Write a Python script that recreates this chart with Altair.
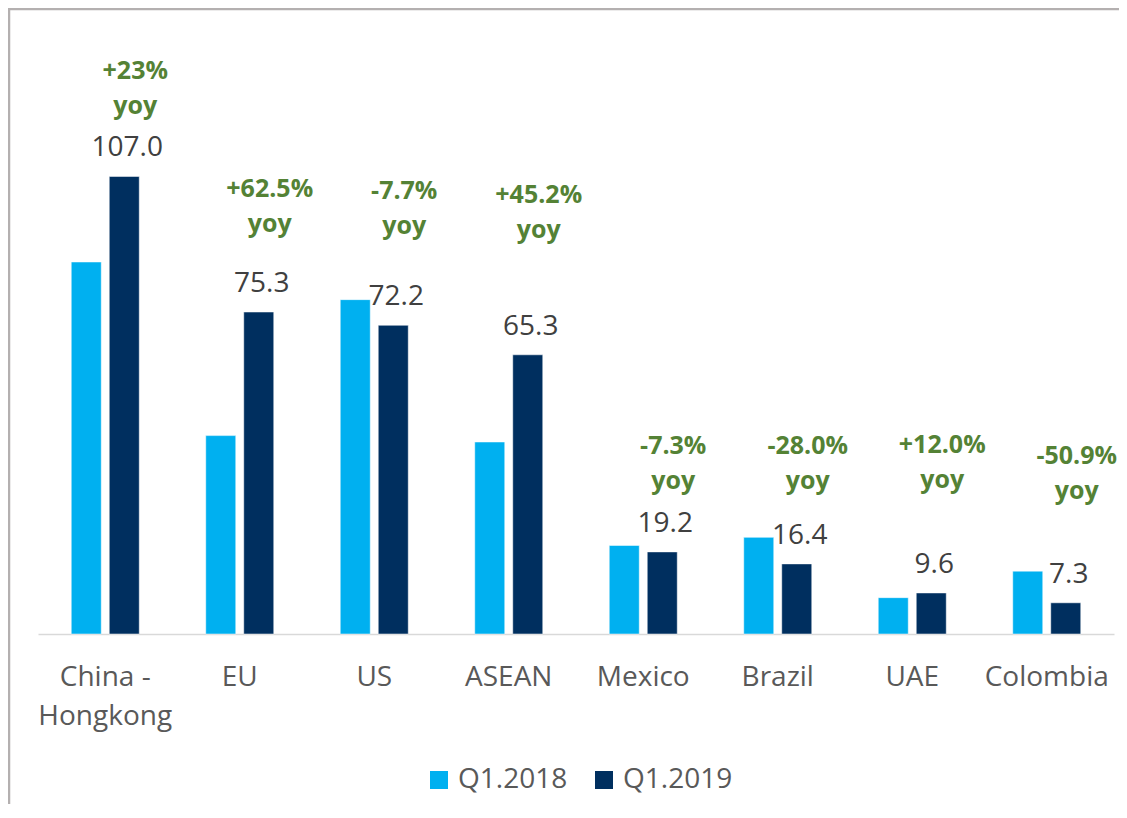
import altair as alt
import pandas as pd

categories = ["China - Hongkong", "EU", "US", "ASEAN", "Mexico", "Brazil", "UAE", "Colombia"]
q1_2018 = [87.0, 46.4, 78.2, 44.9, 20.7, 22.6, 8.5, 14.7]
q1_2019 = [107.0, 75.3, 72.2, 65.3, 19.2, 16.4, 9.6, 7.3]
yoy_labels = ["+23%", "+62.5%", "-7.7%", "+45.2%", "-7.3%", "-28.0%", "+12.0%", "-50.9%"]
# vertical level (in chart value units) where each yoy note sits
yoy_level = [130.2, 102.6, 102.3, 101.2, 42.6, 42.6, 42.9, 40.3]
series_names = ["Q1.2018", "Q1.2019"]
series_colors = ["#00B0F0", "#002F5F"]

rows = []
for c, a, b in zip(categories, q1_2018, q1_2019):
    rows.append({"category": c, "series": "Q1.2018", "value": a})
    rows.append({"category": c, "series": "Q1.2019", "value": b})
bars_df = pd.DataFrame(rows)
val_df = pd.DataFrame({"category": categories, "series": "Q1.2019", "value": q1_2019,
                       "label": [f"{v:.1f}" for v in q1_2019]})
yoy_df = pd.DataFrame({"category": categories, "level": yoy_level, "label": yoy_labels})

FONT = "Open Sans"

x_enc = alt.X("category:N", sort=categories, title=None,
              scale=alt.Scale(paddingInner=0.4944, paddingOuter=0.2472),
              axis=alt.Axis(labelAngle=0, ticks=False, labelFontSize=28, labelFont=FONT,
                            labelColor="#595959", labelPadding=29, labelLineHeight=39,
                            domainColor="#D9D9D9", domainWidth=1.5, grid=False,
                            labelExpr="datum.label == 'China - Hongkong' ? ['China -', 'Hongkong'] : datum.label"))
y_scale = alt.Scale(domain=[0, 145], nice=False, zero=True)

bars = alt.Chart(bars_df).mark_bar(stroke="#FFFFFF", strokeWidth=0.5).encode(
    x=x_enc,
    xOffset=alt.XOffset("series:N", sort=series_names,
                        scale=alt.Scale(paddingInner=0.2105, paddingOuter=0)),
    y=alt.Y("value:Q", scale=y_scale, axis=None),
    color=alt.Color("series:N", sort=series_names,
                    scale=alt.Scale(domain=series_names, range=series_colors),
                    legend=alt.Legend(title=None, orient="none", direction="horizontal",
                                      legendX=387, legendY=752, padding=0,
                                      symbolType="square", symbolSize=324, symbolStrokeWidth=0,
                                      labelFontSize=28, labelFont=FONT, labelColor="#595959",
                                      labelOffset=5, columnPadding=22)),
)

values = alt.Chart(val_df).mark_text(font=FONT, fontSize=28, color="#404040",
                                     baseline="alphabetic", dy=-20, dx=3).encode(
    x=alt.X("category:N", sort=categories),
    xOffset=alt.XOffset("series:N", sort=series_names),
    y=alt.Y("value:Q", scale=y_scale),
    text="label:N",
)

yoy_top = alt.Chart(yoy_df).mark_text(font=FONT, fontSize=25, fontWeight="bold", color="#548235",
                                      baseline="alphabetic", dx=30, dy=2).encode(
    x=alt.X("category:N", sort=categories),
    y=alt.Y("level:Q", scale=y_scale),
    text="label:N",
)
yoy_bottom = alt.Chart(yoy_df).mark_text(font=FONT, fontSize=25, fontWeight="bold", color="#548235",
                                         baseline="alphabetic", dx=30, dy=37).encode(
    x=alt.X("category:N", sort=categories),
    y=alt.Y("level:Q", scale=y_scale),
    text=alt.value("yoy"),
)

frame_data = alt.Data(values=[{"k": 1}])
left_border = alt.Chart(frame_data).mark_rule(color="#B4B0B0", strokeWidth=2.5).encode(
    x=alt.value(-29), y=alt.value(-6), y2=alt.value(900))
top_border = alt.Chart(frame_data).mark_rule(color="#B4B0B0", strokeWidth=2.5).encode(
    x=alt.value(-30), x2=alt.value(1200), y=alt.value(-5))

chart = alt.layer(bars, values, yoy_top, yoy_bottom, left_border, top_border).properties(
    width=1076, height=620,
    autosize=alt.AutoSizeParams(type="none"),
    padding={"left": 30, "top": 6, "right": 5, "bottom": 170},
    background="#FFFFFF",
).configure_view(stroke=None)

chart.save("out.html", embed_options={"renderer": "svg", "actions": False})
